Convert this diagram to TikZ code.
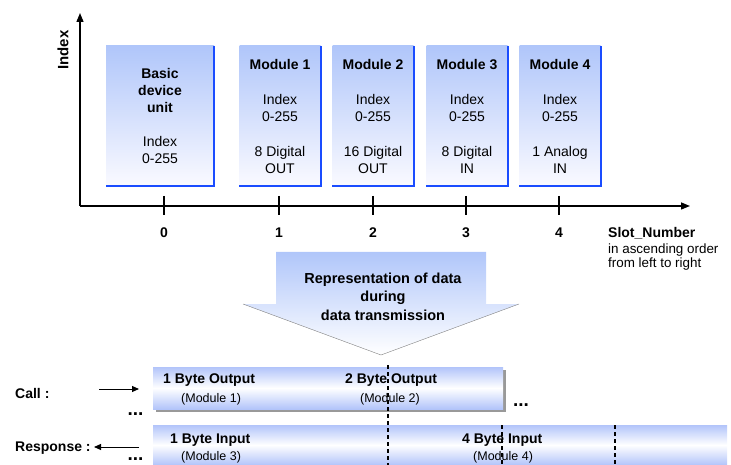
\documentclass[tikz,border=0pt]{standalone}
\usepackage{fontspec}
\setmainfont{Liberation Sans}
\usepackage{tikz}
\usetikzlibrary{arrows.meta}
\usetikzlibrary{shadows}

\definecolor{boxtop}{RGB}{176,198,250}
\definecolor{boxbot}{RGB}{250,250,255}
\definecolor{boxrimc}{RGB}{26,76,255}
\definecolor{bartop}{RGB}{178,196,250}

\begin{document}
\begin{tikzpicture}[x=1pt, y=-1pt,
  every node/.style={inner sep=0pt, font=\fontsize{14}{17}\selectfont},
  bold/.style={font=\fontsize{14}{17}\selectfont\bfseries},
  small/.style={font=\fontsize{12.5}{15}\selectfont},
  dots/.style={font=\fontsize{19}{19}\selectfont\bfseries},
  modbox/.style={minimum width=81pt, minimum height=140pt, top color=boxtop, bottom color=boxbot, align=center},
  boxrim/.style={draw=boxrimc, line width=1.6pt},
  axis/.style={line width=1.4pt},
  bar/.style={top color=bartop, bottom color=bartop, middle color=white},
  sep/.style={line width=1.4pt, dash pattern=on 4pt off 3pt}]
  \useasboundingbox (0,0) rectangle (731,465);

  % axes
  \coordinate (o) at (80,206);
  \draw[axis, -{Triangle[length=9pt,width=7pt]}] (o) -- (690,206);
  \draw[axis, -{Triangle[length=9pt,width=7pt]}] (o) -- (80,13);
  \node[font=\fontsize{15}{17}\selectfont\bfseries, rotate=90] (ylbl) at (63,50) {Index};

  % slots
  \node[modbox, minimum width=108pt] (basic) at (160,116)
    {\textbf{Basic}\\\textbf{device}\\\textbf{unit}\\[17pt]Index\\0-255};
  \node[modbox] (mod1) at (280,116) {\textbf{Module 1}\\[18pt]Index\\0-255\\[18pt]8 Digital\\OUT};
  \node[modbox] (mod2) at (373,116) {\textbf{Module 2}\\[18pt]Index\\0-255\\[18pt]16 Digital\\OUT};
  \node[modbox] (mod3) at (467,116) {\textbf{Module 3}\\[18pt]Index\\0-255\\[18pt]8 Digital\\IN};
  \node[modbox] (mod4) at (560,116) {\textbf{Module 4}\\[18pt]Index\\0-255\\[18pt]1 Analog\\IN};
  \foreach \n in {basic,mod1,mod2,mod3,mod4}
    \draw[boxrim] (\n.north east) -- (\n.south east) -- (\n.south west);

  \foreach \x/\n in {164/0,279/1,373/2,466/3,559/4} {
    \draw[axis] (\x,196) -- (\x,215);
    \node[bold, anchor=base] (tick\n) at (\x,237) {\n};
  }
  \node[bold, anchor=base west] (slot) at (608,237) {Slot\_Number};
  \node[font=\fontsize{13.4}{14}\selectfont, anchor=base west, align=left] (order) at (608,268)
    {in ascending order\\from left to right};

  % big arrow
  \shade[top color=boxtop, bottom color=white] (276,252) -- (486,252) -- (486,304) -- (519,304)
    -- (381,355) -- (243,304) -- (276,304) -- cycle;
  \draw[gray] (243,304) -- (381,355) -- (519,304);
  \node[font=\fontsize{14.5}{18.5}\selectfont\bfseries, align=center, anchor=base] (repr) at (383,320)
    {Representation of data\\during\\data transmission};

  % call / response
  \node[bar, minimum width=350pt, minimum height=42pt,
    general shadow={fill=black!40, shadow xshift=3pt, shadow yshift=-3pt}] (call) at (328,388) {};
  \node[bar, minimum width=574pt, minimum height=40pt] (resp) at (440,445) {};
  \draw[sep] (388,365) -- (388,465);
  \draw[sep] (502,425) -- (502,465);
  \draw[sep] (615,425) -- (615,465);

  \node[bold, anchor=base west] (out1) at (163,383) {1 Byte Output};
  \node[small, anchor=base west] (m1) at (181,402) {(Module 1)};
  \node[bold, anchor=base west] (out2) at (345,383) {2 Byte Output};
  \node[small, anchor=base] (m2) at (390,402) {(Module 2)};
  \node[bold, anchor=base west] (in1) at (170,443) {1 Byte Input};
  \node[small, anchor=base west] (m3) at (181,460) {(Module 3)};
  \node[bold, anchor=base west] (in4) at (462,443) {4 Byte Input};
  \node[small, anchor=base west] (m4) at (473,460) {(Module 4)};

  \node[bold, anchor=base west] (calllbl) at (15,398) {Call :};
  \node[bold, anchor=base west] (resplbl) at (15,451) {Response :};
  \coordinate (ca) at (99,389);
  \coordinate (cb) at (139,389);
  \coordinate (ra) at (139,447);
  \coordinate (rb) at (94,447);
  \draw[line width=1pt, -{Triangle[length=7pt,width=6pt]}] (ca) -- (cb);
  \draw[line width=1pt, -{Triangle[length=7pt,width=6pt]}] (ra) -- (rb);
  \node[dots, anchor=base] (dots1) at (135.5,415) {...};
  \node[dots, anchor=base] (dots2) at (135.5,460) {...};
  \node[dots, anchor=base] (dots3) at (521,406) {...};
\end{tikzpicture}
\end{document}
